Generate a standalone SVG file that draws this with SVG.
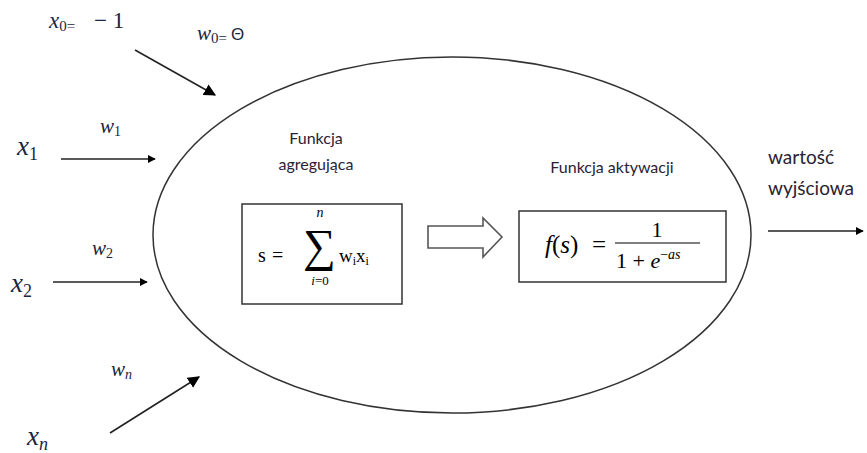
<svg xmlns="http://www.w3.org/2000/svg" width="867" height="453" viewBox="0 0 867 453">
<style>
.m{font-family:"Liberation Serif","DejaVu Serif",serif;fill:#1c2540}
.mi{font-style:italic}
.f{font-family:"Liberation Serif","DejaVu Serif",serif;fill:#000}
.t{font-family:Lato,"Open Sans","Liberation Sans",sans-serif;fill:#2a2233}
.c{stroke:#222;stroke-width:1.6;fill:none}
.box{fill:#fff;stroke:#333;stroke-width:1.5}
</style>
<defs>
<marker id="ah" viewBox="0 0 10 10" refX="9" refY="5" markerWidth="8" markerHeight="8" markerUnits="userSpaceOnUse" orient="auto">
<path d="M0,0 L10,5 L0,10 z" fill="#000"/>
</marker>
<marker id="ahb" viewBox="0 0 10 10" refX="9" refY="5" markerWidth="12" markerHeight="12" markerUnits="userSpaceOnUse" orient="auto">
<path d="M0,0 L10,5 L0,10 z" fill="#000"/>
</marker>
</defs>

<g id="neuron">
<ellipse cx="452" cy="235" rx="299" ry="178" fill="none" stroke="#333" stroke-width="1.5"/>
</g>

<g id="aggregation">
<text class="t" x="316" y="144" font-size="16" text-anchor="middle">Funkcja</text>
<text class="t" x="316" y="170" font-size="16" text-anchor="middle">agregująca</text>
<rect class="box" x="242" y="204" width="160" height="100"/>
<text class="f" x="258" y="262" font-size="20">s</text>
<text class="f" x="272" y="262" font-size="20">=</text>
<text class="f" x="303" y="261" font-size="46">∑</text>
<text class="f mi" x="320" y="217" font-size="14" text-anchor="middle">n</text>
<text class="f" x="320" y="285" font-size="13" text-anchor="middle"><tspan font-style="italic">i</tspan>=0</text>
<text class="f" x="339" y="262" font-size="19">w<tspan font-size="12" dy="3">i</tspan><tspan dy="-3">x</tspan><tspan font-size="12" dy="3">i</tspan></text>
</g>

<g id="activation">
<text class="t" x="612" y="173" font-size="16" text-anchor="middle">Funkcja aktywacji</text>
<rect class="box" x="519" y="211" width="207" height="71"/>
<text class="f" x="545" y="253" font-size="25"><tspan font-style="italic">f</tspan>(<tspan font-style="italic">s</tspan>)</text>
<text class="f" x="592" y="253" font-size="25">=</text>
<text class="f" x="657" y="237" font-size="22" text-anchor="middle">1</text>
<line x1="615" y1="243" x2="700" y2="243" stroke="#000" stroke-width="1.2"/>
<text class="f" x="616" y="268" font-size="22">1 + <tspan font-style="italic">e</tspan><tspan font-size="14" dy="-9">−<tspan font-style="italic">as</tspan></tspan></text>
</g>

<g id="transfer">
<path d="M428,226 L483,226 L483,218 L502,237 L483,257 L483,248 L428,248 Z" fill="#fff" stroke="#555" stroke-width="1.6"/>
</g>

<g id="input-x0">
<text class="m" x="49" y="28" font-size="23"><tspan font-style="italic">x</tspan><tspan font-size="15" dy="3">0=</tspan><tspan x="94" dy="-3" font-size="23">− 1</tspan></text>
</g>
<g id="weight-w0">
<text class="m" x="197" y="40" font-size="21"><tspan font-style="italic">w</tspan><tspan font-size="15" dy="3">0=</tspan><tspan dy="-3" dx="4" font-family="Liberation Sans, sans-serif" font-size="17">Θ</tspan></text>
</g>
<g id="input-x1">
<text class="m mi" x="17" y="155" font-size="27">x<tspan font-style="normal" font-size="18" dy="5">1</tspan></text>
</g>
<g id="weight-w1">
<text class="m mi" x="100" y="133" font-size="21">w<tspan font-style="normal" font-size="14" dy="3">1</tspan></text>
</g>
<g id="input-x2">
<text class="m mi" x="11" y="292" font-size="27">x<tspan font-style="normal" font-size="18" dy="5">2</tspan></text>
</g>
<g id="weight-w2">
<text class="m mi" x="92" y="255" font-size="21">w<tspan font-style="normal" font-size="14" dy="3">2</tspan></text>
</g>
<g id="input-xn">
<text class="m mi" x="27" y="445" font-size="27">x<tspan font-size="18" dy="5">n</tspan></text>
</g>
<g id="weight-wn">
<text class="m mi" x="111" y="376" font-size="21">w<tspan font-size="14" dy="3">n</tspan></text>
</g>
<g id="output">
<text class="t" x="768" y="164" font-size="19">wartość</text>
<text class="t" x="768" y="195" font-size="19">wyjściowa</text>
</g>

<g id="connectors">
<line class="c" x1="135" y1="50" x2="215" y2="95" marker-end="url(#ahb)"/>
<line class="c" x1="61" y1="159" x2="155" y2="159" marker-end="url(#ah)"/>
<line class="c" x1="53" y1="282" x2="147" y2="282" marker-end="url(#ah)"/>
<line class="c" x1="110" y1="433" x2="199" y2="377" marker-end="url(#ahb)"/>
<line class="c" x1="768" y1="231" x2="863" y2="231" marker-end="url(#ah)"/>
</g>
</svg>
